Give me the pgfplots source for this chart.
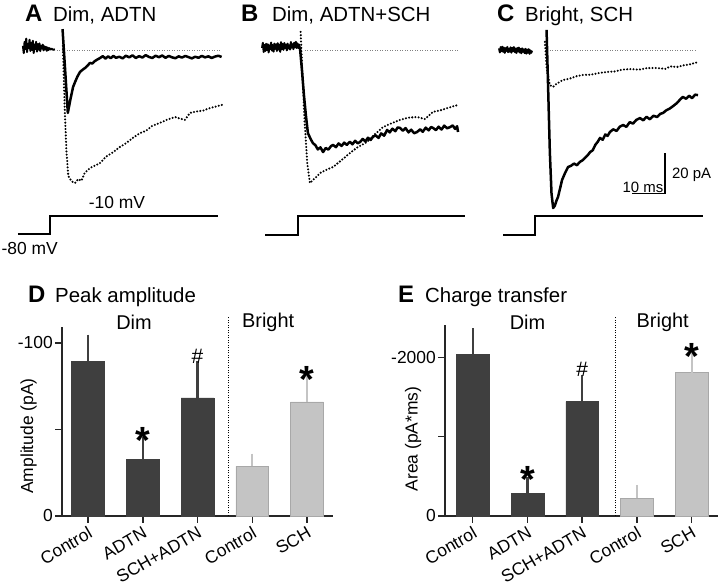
\documentclass[border=0pt]{standalone}
\usepackage{fontspec}
\setmainfont{Liberation Sans}
\usepackage{pgfplots}
\pgfplotsset{compat=1.18}

\definecolor{darkbar}{HTML}{3F3F3F}
\definecolor{lightbar}{HTML}{C4C4C4}
\definecolor{lightedge}{HTML}{A8A8A8}

\newcommand{\fs}[1]{\fontsize{#1}{#1}\selectfont}

\pgfplotsset{
  trace/.style={hide axis, scale only axis, clip=false, anchor=south west,
    ymin=-100, ymax=13, width=211.2bp, height=231.65bp},
  solid trace/.style={black, line width=2.5bp, line join=round},
  noise trace/.style={black, line width=2bp, line join=round},
  dot trace/.style={black, line width=2.3bp, line cap=round, dash pattern=on 0pt off 3.2bp},
  base line/.style={gray, line width=0.5bp, dash pattern=on 0.5bp off 2bp},
  step line/.style={black, line width=1.6bp},
  bars/.style={scale only axis, anchor=south west, clip=false,
    axis x line*=bottom, axis y line*=left,
    axis line style={line width=1.5bp, black!85},
    every tick/.style={line width=1.5bp, black!85},
    tick align=outside, major tick length=7bp,
    xtick={0,...,4}, xticklabels={Control,ADTN,SCH+ADTN,Control,SCH},
    xticklabel style={rotate=30, anchor=north east, inner sep=2pt, font=\fs{17.5}},
    yticklabel style={font=\fs{17.5}, inner sep=2pt}, ymin=0},
  dark bars/.style={ybar, bar shift=0pt, bar width=0.6, fill=darkbar, draw=darkbar,
    error bars/.cd, y dir=plus, y explicit,
    error bar style={line width=2.4bp, darkbar},
    error mark options={line width=2.4bp, darkbar, mark size=5bp}},
  light bars/.style={ybar, bar shift=0pt, bar width=0.6, fill=lightbar, draw=lightedge,
    error bars/.cd, y dir=plus, y explicit,
    error bar style={line width=2.4bp, lightbar},
    error mark options={line width=2.4bp, lightbar, mark size=5bp}},
  sep line/.style={black, line width=1bp, dash pattern=on 1bp off 1.5bp},
}

\begin{document}
\begin{tikzpicture}[x=1bp, y=1bp]
\path[use as bounding box] (0,0) rectangle (720,586);

% ---- titles
\node[anchor=base west, inner sep=0, font=\bfseries\fs{24}] at (25,564.3) {A};
\node[anchor=base west, inner sep=0, font=\fs{20.5}] at (53,564.3) {Dim, ADTN};
\node[anchor=base west, inner sep=0, font=\bfseries\fs{24}] at (241,564.3) {B};
\node[anchor=base west, inner sep=0, font=\fs{20.5}] at (272,564.3) {Dim, ADTN+SCH};
\node[anchor=base west, inner sep=0, font=\bfseries\fs{24}] at (497,564.3) {C};
\node[anchor=base west, inner sep=0, font=\fs{20.5}] at (525,564.3) {Bright, SCH};
\node[anchor=base west, inner sep=0, font=\bfseries\fs{24}] at (28,283) {D};
\node[anchor=base west, inner sep=0, font=\fs{20.5}] at (55,283) {Peak amplitude};
\node[anchor=base west, inner sep=0, font=\bfseries\fs{24}] at (398,283) {E};
\node[anchor=base west, inner sep=0, font=\fs{20.5}] at (425,283) {Charge transfer};

% ---- A
\begin{axis}[trace, at={(13.7bp,331bp)}, xmin=-11, xmax=53]
\addplot[base line] coordinates {(2.1,0) (52.1,0)};
\addplot[step line] coordinates {(-9.7,-89.8) (0,-89.8) (0,-81) (50.9,-81)};
\addplot[noise trace] coordinates {
(-8.2,2)(-7.95,-1.5)(-7.7,4)(-7.45,0.5)(-7.2,5.5)(-6.95,-1)(-6.7,3)(-6.45,1)(-6.2,5)(-5.95,-0.5)
(-5.7,3.5)(-5.45,0)(-5.2,4.5)(-4.95,-1.5)(-4.7,2.5)(-4.45,0.5)(-4.2,4)(-3.95,-0.8)(-3.7,2.8)
(-3.45,0.2)(-3.2,3.2)(-2.95,-0.5)(-2.7,2)(-2.45,0.8)(-2.2,2.6)(-1.95,-0.2)(-1.7,1.8)(-1.45,0.3)
(-1.2,1.5)(-0.95,-0.4)(-0.7,1.2)(-0.45,0)(-0.2,0.9)(0.1,0.2)(0.5,0.6)(1.0,0.1)(1.5,0.3)};
\addplot[solid trace] coordinates {
(3.8,10.2)(4.6,-10)(5.4,-30.7)(6.2,-24)(7.0,-18)(7.6,-15.6)(8.3,-13)(9.1,-10.7)(10.0,-9.5)
(10.6,-8.8)(11.3,-7.8)(12.1,-6.3)(12.8,-6.6)(13.6,-5.4)(14.4,-4.6)(15.2,-3.9)(16.0,-3.0)
(16.8,-4.2)(17.6,-3.1)(18.4,-4.0)(19.2,-2.9)(20.0,-3.8)(21,-3.3)(22,-4.1)(23,-2.8)(24,-3.6)
(25,-2.6)(26,-3.9)(27,-3.0)(28,-3.7)(29,-2.5)(30,-3.4)(31,-3.9)(32,-2.8)(33,-3.5)(34,-2.7)
(35,-3.8)(36,-2.9)(37,-3.6)(38,-4.0)(39,-3.1)(40,-3.7)(41,-2.9)(42,-3.5)(43,-4.1)(44,-3.3)
(45,-3.8)(46,-2.9)(47,-3.6)(48,-3.1)(49,-3.9)(50,-3.2)(51,-2.8)(52,-3.4)};
\addplot[dot trace] coordinates {
(3.9,2)(4.5,-30.7)(5.0,-50)(5.55,-61.5)(6.5,-64)(7.6,-64.9)(8.5,-63)(9.5,-63.8)(10.5,-60)
(12.1,-57.6)(13.5,-56.5)(15.2,-55.1)(17,-52)(19,-50)(21.2,-47.3)(23,-45.5)(25,-43)(27.3,-40.5)
(29,-39.5)(31,-37)(33.3,-35.6)(35.5,-34)(37.9,-32.7)(39.5,-33.5)(40.9,-34.1)(42.4,-30.7)
(44.5,-30)(46.5,-29.5)(48.5,-28.3)(50.5,-27.5)(52.1,-26.8)};
\node[font=\fs{17.5}] at (axis cs:20.3,-74.6) {-10 mV};
\node[font=\fs{17.5}, anchor=west, inner sep=0] at (axis cs:-14.7,-97) {-80 mV};
\end{axis}

% ---- B
\begin{axis}[trace, at={(258.4bp,331bp)}, xmin=-12, xmax=52]
\addplot[base line] coordinates {(2.1,0) (48.5,0)};
\addplot[step line] coordinates {(-10,-90.2) (0,-90.2) (0,-81) (50.6,-81)};
\addplot[noise trace] coordinates {
(-10.9,1)(-10.65,3.5)(-10.4,-1)(-10.15,2.5)(-9.9,-0.5)(-9.65,3)(-9.4,0)(-9.15,2.8)(-8.9,-1.2)
(-8.65,2.2)(-8.4,0.5)(-8.15,3.6)(-7.9,-0.3)(-7.65,2.4)(-7.4,-0.8)(-7.15,3.1)(-6.9,0.6)(-6.65,2.7)
(-6.4,-0.5)(-6.15,3.3)(-5.9,0.2)(-5.65,2.5)(-5.4,-0.9)(-5.15,3.8)(-4.9,0.4)(-4.65,2.9)(-4.4,0.1)
(-4.15,3.4)(-3.9,1.0)(-3.65,2.6)(-3.4,-0.2)(-3.15,3.1)(-2.9,0.7)(-2.65,2.3)(-2.4,0.2)(-2.15,3.9)
(-1.9,1.1)(-1.65,2.8)(-1.4,0.4)(-1.15,3.5)(-0.9,1.3)(-0.65,4.0)(-0.4,1.0)(-0.15,3.2)(0.1,0.9)
(0.35,2.6)(0.6,1.0)};
\addplot[solid trace] coordinates {
(0.6,1)(1.2,-10)(1.8,-22)(2.4,-32)(3.0,-40.5)(3.7,-43)(4.5,-45.4)(5.3,-46.5)(6.0,-48.5)
(6.8,-47.5)(7.6,-49.8)(8.4,-47.8)(9.2,-48.6)(10.0,-46.9)(10.6,-46.3)(11.5,-47.4)(12.3,-45.6)
(13.2,-46.8)(14.0,-45.2)(14.8,-46.3)(15.7,-44.8)(16.5,-46.0)(17.3,-44.3)(18.1,-45.5)(18.8,-44.9)
(19.6,-43.4)(20.4,-44.6)(21.2,-42.8)(22.0,-43.9)(22.7,-42.4)(23.5,-41.6)(24.4,-42.9)(25.2,-40.7)
(26.1,-41.8)(27.0,-39.0)(27.8,-40.2)(28.6,-38.4)(29.5,-39.6)(30.2,-37.8)(30.9,-38.0)(31.8,-39.4)
(32.6,-38.1)(33.5,-40.2)(34.3,-38.9)(35.2,-40.6)(36.1,-40.0)(37.0,-38.7)(37.8,-39.9)(38.7,-37.9)
(39.6,-39.2)(40.3,-37.6)(40.9,-38.0)(41.8,-39.1)(42.6,-37.4)(43.5,-38.8)(44.3,-36.9)(45.2,-38.2)
(46.1,-37.6)(46.9,-36.8)(47.6,-38.5)(48.2,-37.2)(48.5,-40.0)};
\addplot[dot trace] coordinates {
(0.8,8.8)(1.3,-10)(2.0,-35)(2.8,-55)(3.6,-64.9)(4.5,-63.5)(5.5,-62)(6.7,-60)(8.5,-58.5)
(10.6,-57.1)(13,-54)(15.8,-50.2)(18,-47.5)(20.9,-44.9)(23,-41.5)(25.8,-37.6)(28,-36)(30.9,-34.1)
(33.5,-33)(36.1,-32.7)(38.5,-33.7)(40.9,-30.2)(43,-29.5)(45,-28.5)(47,-27.5)(48.5,-26.8)};
\end{axis}

% ---- C
\begin{axis}[trace, at={(495.4bp,331bp)}, xmin=-12, xmax=52]
\addplot[base line] coordinates {(3.0,0) (49.1,0)};
\addplot[step line] coordinates {(-9.7,-90.2) (0,-90.2) (0,-81) (50.9,-81)};
\addplot[noise trace] coordinates {
(-10.9,0.8)(-10.65,-1.2)(-10.4,1.4)(-10.15,-0.6)(-9.9,1.6)(-9.65,-0.9)(-9.4,1.1)(-9.15,-1.4)
(-8.9,0.9)(-8.65,-0.4)(-8.4,1.5)(-8.15,-1.1)(-7.9,0.6)(-7.65,-0.8)(-7.4,1.3)(-7.15,-1.3)(-6.9,1.0)
(-6.65,-0.5)(-6.4,1.4)(-6.15,-1.0)(-5.9,0.7)(-5.65,-1.5)(-5.4,0.9)(-5.15,-0.7)(-4.9,1.2)(-4.65,-1.2)
(-4.4,0.5)(-4.15,-1.6)(-3.9,0.8)(-3.65,-0.9)(-3.4,0.3)(-3.15,-1.5)(-2.9,0.6)(-2.65,-1.8)(-2.4,0.2)
(-2.15,-1.3)(-1.9,0.4)(-1.65,-1.9)(-1.4,-0.2)(-1.15,-1.4)(-0.9,-0.3)};
\addplot[solid trace] coordinates {
(3.5,9.8)(4.0,-20)(4.5,-50)(5.0,-70)(5.5,-77.1)(6.0,-76)(6.5,-73.5)(6.97,-71.7)(7.6,-67.5)
(8.2,-63.4)(9.1,-60)(10,-57.1)(10.9,-56.5)(11.8,-55.4)(12.7,-56.2)(13.6,-54.6)(14.4,-53.8)
(15.2,-52.5)(16.0,-51.3)(16.7,-49.8)(17.5,-48.9)(18.3,-46.2)(19.0,-44.8)(19.7,-42.9)(20.5,-43.8)
(21.3,-41.2)(22.0,-41.9)(22.7,-40.0)(23.7,-38.7)(24.7,-39.5)(25.7,-37.4)(26.7,-36.6)(27.7,-37.5)
(28.7,-35.2)(29.7,-35.9)(30.7,-34.1)(31.8,-33.2)(32.8,-34.3)(33.8,-32.6)(34.8,-33.8)(35.9,-32.1)
(37.0,-32.7)(37.9,-31.2)(38.8,-30.7)(39.8,-29.4)(40.8,-28.6)(41.9,-27.3)(43.0,-25.9)(43.9,-24.3)
(44.8,-22.9)(45.8,-23.8)(46.7,-22.3)(47.6,-23.5)(48.5,-21.8)(49.4,-22.0)};
\addplot[dot trace] coordinates {
(3.0,4)(3.5,-8.3)(4.5,-17.1)(5.5,-18.0)(6.5,-16.5)(8.5,-14.6)(10.5,-14.0)(12.5,-12.8)(14.5,-12.2)
(17,-12.0)(19.5,-11.2)(21.8,-10.7)(24,-10.5)(26.5,-9.6)(28.8,-9.3)(31.5,-9.6)(34,-8.8)(37,-8.8)
(39.5,-9.2)(41,-8.0)(43,-8.3)(45,-7.5)(47,-7.0)(49.4,-5.9)};
% scale bar: 10 ms, 20 pA
\addplot[black, line width=1.2bp] coordinates {(29.4,-70.2) (39.4,-70.2) (39.4,-50.2)};
\node[font=\fs{15}, anchor=south, inner sep=1bp] at (axis cs:32.7,-70.2) {10 ms};
\node[font=\fs{15}, anchor=west, inner sep=0] at (axis cs:41.5,-61) {20 pA};
\end{axis}

% ---- D
\node[rotate=90, font=\fs{17.5}] at (28.5,150) {Amplitude (pA)};
\begin{axis}[bars, at={(62bp,70bp)}, width=271bp, height=189bp,
  xmin=-0.475, xmax=4.475, ymax=109.2,
  ytick={0,50,100}, yticklabels={0,,-100}]
\addplot[dark bars] coordinates {(0,89.3) +- (0,12.6) (1,32.8) +- (0,9.7) (2,68.2) +- (0,18.6)};
\addplot[light bars] coordinates {(3,28.6) +- (0,4.6) (4,65.9) +- (0,12.3)};
\addplot[sep line] coordinates {(2.557,0) (2.557,115)};
\node[font=\fs{20}] at (axis cs:0.84,112.1) {Dim};
\node[font=\fs{20}] at (axis cs:3.29,112.1) {Bright};
\node[font=\bfseries\fs{38}, yshift=-8bp] at (axis cs:1,48) {*};
\node[font=\bfseries\fs{38}, yshift=-8bp] at (axis cs:4,83.4) {*};
\node[font=\fs{21}] at (axis cs:2,92.5) {\#};
\end{axis}

% ---- E
\node[rotate=90, font=\fs{17.5}] at (413,147) {Area (pA*ms)};
\begin{axis}[bars, at={(445bp,70bp)}, width=273bp, height=191bp,
  xmin=-0.506, xmax=4.48, ymax=2407,
  ytick={0,1000,2000}, yticklabels={0,,-2000}]
\addplot[dark bars] coordinates {(0,2039) +- (0,265) (1,286) +- (0,147) (2,1441) +- (0,274)};
\addplot[light bars] coordinates {(3,223) +- (0,105) (4,1807) +- (0,189)};
\addplot[sep line] coordinates {(2.6,0) (2.6,2508)};
\node[font=\fs{20}] at (axis cs:1.0,2445) {Dim};
\node[font=\fs{20}] at (axis cs:3.47,2445) {Bright};
\node[font=\bfseries\fs{38}, yshift=-8bp] at (axis cs:1,558) {*};
\node[font=\bfseries\fs{38}, yshift=-8bp] at (axis cs:4,2105) {*};
\node[font=\fs{21}] at (axis cs:2,1852) {\#};
\end{axis}
\end{tikzpicture}
\end{document}
